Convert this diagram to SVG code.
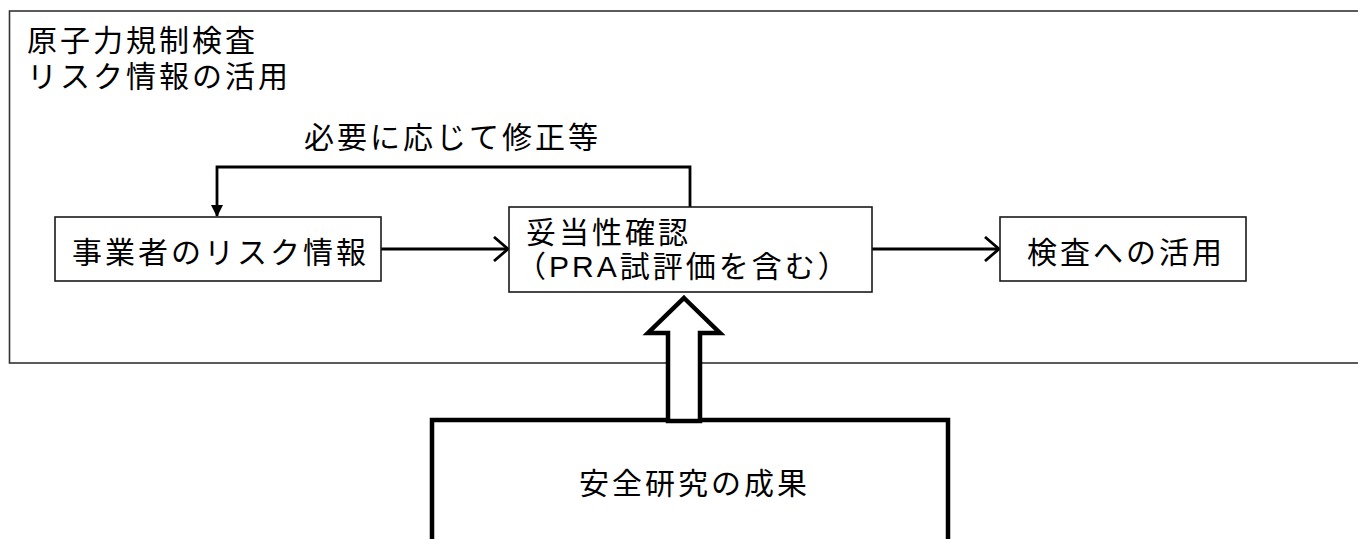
<svg xmlns="http://www.w3.org/2000/svg" width="1358" height="539" viewBox="0 0 1358 539">
<style>
text{font-family:"Liberation Sans","Noto Sans CJK JP",sans-serif;font-size:30px;fill:#000;letter-spacing:3px}
.box{fill:#fff;stroke:#1a1a1a;stroke-width:1.6}
.frame{fill:#fff;stroke:#333;stroke-width:1.6}
.thick{fill:#fff;stroke:#000;stroke-width:4.5}
.conn{fill:none;stroke:#000;stroke-width:2.8}
</style>
<defs>
<marker id="open" viewBox="0 0 16 26" refX="15" refY="13" markerWidth="16" markerHeight="26" markerUnits="userSpaceOnUse" orient="auto">
<path d="M1,1 L15,13 L1,25" fill="none" stroke="#000" stroke-width="2.8"/>
</marker>
<marker id="fill" viewBox="0 0 12 12" refX="11" refY="6" markerWidth="12" markerHeight="12" markerUnits="userSpaceOnUse" orient="auto">
<path d="M0,0 L12,6 L0,12 Z" fill="#000"/>
</marker>
</defs>
<g id="frame">
<rect class="frame" x="9.5" y="11" width="1360" height="352"/>
<text x="27" y="51">原子力規制検査</text>
<text x="27" y="87">リスク情報の活用</text>
</g>
<g id="research">
<rect class="thick" x="432" y="420" width="516" height="140"/>
<text x="579" y="494">安全研究の成果</text>
</g>
<g id="connectors">
<path class="thick" d="M684,298 L720,333 L700,333 L700,421 L668,421 L668,333 L648,333 Z" stroke-linejoin="miter"/>
<path class="conn" d="M381,249 L508,249" marker-end="url(#open)"/>
<path class="conn" d="M872,249 L999,249" marker-end="url(#open)"/>
<path class="conn" d="M690,207 L690,167 L217,167 L217,216" marker-end="url(#fill)"/>
<text x="304" y="148">必要に応じて修正等</text>
</g>
<g id="operator">
<rect class="box" x="55" y="217" width="326" height="64"/>
<text x="72" y="263">事業者のリスク情報</text>
</g>
<g id="check">
<rect class="box" x="509" y="207" width="363" height="85"/>
<text x="526" y="243">妥当性確認</text>
<text x="516" y="277">（PRA試評価を含む）</text>
</g>
<g id="use">
<rect class="box" x="1000" y="217" width="246" height="64"/>
<text x="1027" y="263">検査への活用</text>
</g>
</svg>
